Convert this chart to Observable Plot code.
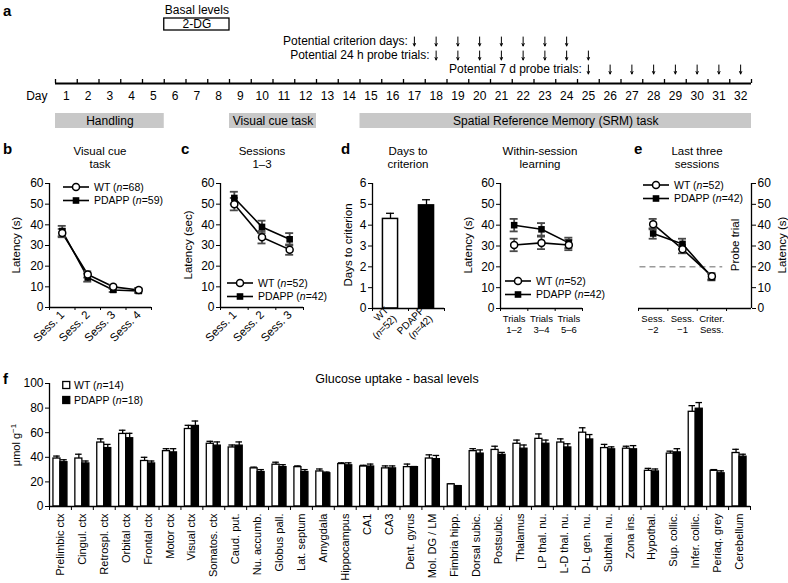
<!DOCTYPE html>
<html><head><meta charset="utf-8">
<script src="https://cdn.jsdelivr.net/npm/d3@7"></script>
<script src="https://cdn.jsdelivr.net/npm/@observablehq/plot@0.6"></script>
<style>
body{margin:0;background:#fff;}
#root{position:relative;width:788px;height:583px;overflow:hidden;font-family:"Liberation Sans",Arial,Helvetica,sans-serif;color:#000;background:#fff;}
.abs{position:absolute;white-space:nowrap;}
svg text{fill:#000;}
</style></head><body><div id="root"></div>
<script>
// ---------------- DATA ----------------
// Panel a: timeline
const dayLabels = [1,2,3,4,5,6,7,8,9,10,11,12,13,14,15,16,17,18,19,20,21,22,23,24,25,26,27,28,29,30,31,32];
const dgDays = [6, 8];
const criterionDays = [17,18,19,20,21,22,23,24];
const probe24Days = [18,19,20,21,22,23,24,25];
const probe7Days = [25,26,27,28,29,30,31,32];
const phaseNames = ["Handling", "Visual cue task", "Spatial Reference Memory (SRM) task"];
const phaseStart = [1, 9, 15];
const phaseEnd = [5, 12, 32];

// Panel b: visual cue task
const sessB = ["Sess. 1", "Sess. 2", "Sess. 3", "Sess. 4"];
const wtB = [36, 16, 10, 8.5];
const wtBErr = [2, 1.5, 1, 1];
const pdB = [37, 14.5, 8.5, 8];
const pdBErr = [2.5, 2, 1, 1];

// Panel c: sessions 1-3
const sessC = ["Sess. 1", "Sess. 2", "Sess. 3"];
const wtC = [50, 34, 28];
const wtCErr = [3, 3, 2.5];
const pdC = [53, 39, 33];
const pdCErr = [3, 3, 3];

// Panel d: days to criterion
const critGroups = ["WT\n(n=52)", "PDAPP\n(n=42)"];
const critDays = [4.3, 4.95];
const critErr = [0.27, 0.27];

// Panel d: within-session learning
const trialsD = ["Trials\n1–2", "Trials\n3–4", "Trials\n5–6"];
const wtD = [30.5, 31.5, 30.5];
const wtDErr = [3, 3, 2.5];
const pdD = [40, 38, 31.5];
const pdDErr = [3, 3, 2.5];

// Panel e: last three sessions
const sessE = ["Sess.\n−2", "Sess.\n−1", "Criter.\nSess."];
const wtE = [40.5, 28.5, 15.5];
const wtEErr = [2.5, 2, 1.5];
const pdE = [36, 31, 15];
const pdEErr = [2.5, 2.5, 1.5];
const chanceLevel = 20;

// Panel f: glucose uptake
const regions = ["Prelimbic ctx","Cingul. ctx","Retrospl. ctx","Orbital ctx","Frontal ctx","Motor ctx","Visual ctx","Somatos. ctx","Caud. put.","Nu. accumb.","Globus pall.","Lat. septum","Amygdala","Hippocampus","CA1","CA3","Dent. gyrus","Mol. DG / LM","Fimbria hipp.","Dorsal subic.","Postsubic.","Thalamus","LP thal. nu.","L-D thal. nu.","D-L gen. nu.","Subthal. nu.","Zona ins.","Hypothal.","Sup. collic.","Infer. collic.","Periaq. grey","Cerebellum"];
const wtF    = [39, 39, 52, 59, 37, 45, 63, 51, 48, 31, 34, 32, 28.5, 34.5, 32.5, 31, 32, 39, 18, 45, 46, 51, 55, 52, 60, 47.5, 47, 29, 43, 77, 29, 43.5];
const wtFErr = [2, 3.5, 3, 3, 3, 2, 3, 2, 2, 1, 2, 1, 2, 1, 1, 2, 2.5, 3, 0.5, 2, 3, 3, 4, 3, 4, 3, 2, 2, 2, 5, 1, 3];
const pdF    = [36, 35, 47.5, 55.5, 35, 44, 65.5, 49.5, 49.5, 28, 32, 28, 27, 33.5, 32.5, 31, 32, 38.5, 16.5, 43, 42, 47, 51, 48, 54.5, 46.5, 46.5, 28.5, 44, 79.5, 27, 40.5];
const pdFErr = [2, 2, 3, 4, 2, 3, 4, 3, 3, 2, 2, 2, 1, 2, 2, 2, 0.5, 3, 0.5, 3, 2, 3, 3, 3, 4, 2, 3, 2, 3, 5, 2, 2];

// ---------------- HELPERS ----------------
const root = document.getElementById("root");
const FONT = '"Liberation Sans", Arial, Helvetica, sans-serif';
const intFmt = d => String(d);
function st(fs) { return {fontFamily: FONT, fontSize: fs + "px", background: "transparent", overflow: "visible", color: "#000"}; }
function place(node, left, top) {
  node.style.position = "absolute"; node.style.left = left + "px"; node.style.top = top + "px";
  root.appendChild(node); return node;
}
function txt(html, x, y, o = {}) {
  const d = document.createElement("div");
  d.className = "abs"; d.innerHTML = html;
  d.style.fontSize = (o.size || 12) + "px";
  if (o.bold) d.style.fontWeight = "bold";
  d.style.lineHeight = (o.lh || Math.round((o.size || 12) * 1.15)) + "px";
  d.style.left = x + "px"; d.style.top = y + "px"; d.style.textAlign = "center";
  const a = o.anchor || "middle";
  let t = a === "middle" ? "translate(-50%,-50%)" : a === "start" ? "translate(0,-50%)" : "translate(-100%,-50%)";
  if (o.rotate) t += " rotate(-90deg)";
  d.style.transform = t;
  root.appendChild(d); return d;
}
function title2(l1, l2, x) {
  txt(l1, x, 151, {size: 11.5});
  txt(l2, x, 164, {size: 11.5});
}
function italicN(node) {
  d3.select(node).selectAll("text, tspan").each(function() {
    if (this.children.length === 0 && this.textContent.includes("(n=")) {
      this.innerHTML = this.textContent.replace("(n=", '(<tspan font-style="italic">n</tspan>=');
    }
  });
  return node;
}
function lineLegend(left, top, labels) {
  const L = 26, gap = 13.5;
  const svg = d3.create("svg").attr("width", 140).attr("height", 32)
    .style("font-family", FONT).style("font-size", "10.5px").style("overflow", "visible");
  labels.forEach((lab, i) => {
    const y = 7 + i * gap;
    svg.append("line").attr("x1", 0).attr("x2", L).attr("y1", y).attr("y2", y).attr("stroke", "black").attr("stroke-width", 1.6);
    if (i === 0) svg.append("circle").attr("cx", L / 2).attr("cy", y).attr("r", 3.5).attr("fill", "white").attr("stroke", "black").attr("stroke-width", 1.5);
    else svg.append("rect").attr("x", L / 2 - 3.3).attr("y", y - 3.3).attr("width", 6.6).attr("height", 6.6).attr("fill", "black");
    svg.append("text").attr("x", L + 5).attr("y", y).attr("dy", "0.35em").html(lab.replace("(n=", '(<tspan font-style="italic">n</tspan>='));
  });
  place(svg.node(), left, top - 7);
}

// ---------------- PANEL A ----------------
const ROW = {basal: 10, boxTop: 18, boxBot: 30, box: 24, crit: 41, p24: 55, p7: 69, axis: 83, days: 96, barTop: 113, barBot: 128, bar: 120.5};
const arrowRows = [
  {days: criterionDays, y: ROW.crit, label: "Potential criterion days:"},
  {days: probe24Days, y: ROW.p24, label: "Potential 24 h probe trials:"},
  {days: probe7Days, y: ROW.p7, label: "Potential 7 d probe trials:"}
];
const phaseIdx = phaseNames.map((_, i) => i);
const dgMid = (dgDays[0] + dgDays[1]) / 2;
const A = Plot.plot({
  width: 788, height: 135, marginLeft: 55, marginRight: 37, marginTop: 0, marginBottom: 0,
  style: st(12),
  x: {domain: [0.5, 32.5], axis: null},
  y: {domain: [0, 135], range: [0, 135], axis: null},
  marks: [
    Plot.text(["Basal levels"], {x: dgMid, y: ROW.basal, text: d => d}),
    Plot.rect([dgDays], {x1: d => d[0] - 0.5, x2: d => d[1] + 0.5, y1: ROW.boxTop, y2: ROW.boxBot, fill: "white", stroke: "black", strokeWidth: 1.3}),
    Plot.text(["2-DG"], {x: dgMid, y: ROW.box, text: d => d}),
    ...arrowRows.flatMap(r => [
      Plot.arrow(r.days, {x1: d => d, x2: d => d, y1: r.y - 4.5, y2: r.y + 4.5, headLength: 4, headAngle: 50, strokeWidth: 1, stroke: "black"}),
      Plot.text([r.label], {x: r.days[0] - 0.3, y: r.y, text: d => d, textAnchor: "end"})
    ]),
    Plot.ruleY([ROW.axis], {x1: 0.5, x2: 32.5, strokeWidth: 1.8}),
    Plot.ruleX(d3.range(0.5, 32.6, 1), {x: d => d, y1: ROW.axis - 4, y2: ROW.axis, strokeWidth: 1.3}),
    Plot.text(dayLabels, {x: d => d, y: ROW.days, text: d => String(d)}),
    Plot.text(["Day"], {x: 0.5, dx: -8, y: ROW.days, text: d => d, textAnchor: "end"}),
    Plot.rect(phaseIdx, {x1: i => phaseStart[i] - 0.5, x2: i => phaseEnd[i] + 0.5, y1: ROW.barTop, y2: ROW.barBot, fill: "#c8c8c8"}),
    Plot.text(phaseIdx, {x: i => (phaseStart[i] + phaseEnd[i]) / 2, y: ROW.bar, text: i => phaseNames[i]})
  ]
});
place(A, 0, 0);

// ---------------- LINE PANELS ----------------
function linePanel(o) {
  const n = o.cats.length;
  const x0 = 0.5, x1 = o.xmax || n + 0.5;
  const frameH = o.frameH || 124;
  const frameW = o.width - o.mL - o.mR;
  const cap = 4 / (frameW / (x1 - x0));
  const rows = [];
  o.cats.forEach((c, i) => {
    rows.push({g: "WT", x: i + 1, v: o.wt[i], e: o.wtErr[i]});
    rows.push({g: "PDAPP", x: i + 1, v: o.pd[i], e: o.pdErr[i]});
  });
  const wtRows = rows.filter(r => r.g === "WT"), pdRows = rows.filter(r => r.g === "PDAPP");
  const right = !!o.right;
  const bounds = d3.range(0.5, (o.boundMax || x1) + 0.01, 1);
  const errStyle = {stroke: "#4a4a4a", strokeWidth: 1.8};
  const plot = Plot.plot({
    width: o.width, height: 43 + frameH + 50, marginLeft: o.mL, marginRight: o.mR, marginTop: 43, marginBottom: 50,
    style: st(12),
    x: {domain: [x0, x1]}, y: {domain: [0, 60]},
    marks: [
      ...(o.extra || []),
      Plot.ruleY([0], {strokeWidth: 1.3}),
      Plot.ruleX([right ? x1 : x0], {strokeWidth: 1.3}),
      Plot.axisY({anchor: right ? "right" : "left", ticks: [0, 10, 20, 30, 40, 50, 60], tickFormat: intFmt, tickSize: 4, tickPadding: 2, label: null}),
      Plot.axisX({ticks: bounds, tickFormat: () => "", tickSize: 3, label: null}),
      Plot.axisX({ticks: d3.range(1, n + 1), tickFormat: i => o.cats[i - 1], tickSize: 0, tickPadding: o.pad || 6, tickRotate: o.rotate || 0, label: null, fontSize: o.catSize || 12, lineHeight: o.lineH || 1.1}),
      Plot.line(wtRows, {x: "x", y: "v", stroke: "black", strokeWidth: 1.6}),
      Plot.line(pdRows, {x: "x", y: "v", stroke: "black", strokeWidth: 1.6}),
      Plot.ruleX(rows, {x: "x", y1: d => d.v - d.e, y2: d => d.v + d.e, ...errStyle}),
      Plot.ruleY(rows, {y: d => d.v + d.e, x1: d => d.x - cap, x2: d => d.x + cap, ...errStyle}),
      Plot.ruleY(rows, {y: d => d.v - d.e, x1: d => d.x - cap, x2: d => d.x + cap, ...errStyle}),
      Plot.dot(pdRows, {x: "x", y: "v", symbol: "square", r: 3.7, fill: "black"}),
      Plot.dot(wtRows, {x: "x", y: "v", symbol: "circle", r: 3.5, fill: "white", stroke: "black", strokeWidth: 1.5})
    ]
  });
  return place(plot, o.left, 140);
}

// b
linePanel({left: 0, width: 160, mL: 49, mR: 9, cats: sessB, wt: wtB, wtErr: wtBErr, pd: pdB, pdErr: pdBErr, rotate: -45, pad: 5, catSize: 11.5});
// c
linePanel({left: 160, width: 160, mL: 60, mR: 17, cats: sessC, wt: wtC, wtErr: wtCErr, pd: pdC, pdErr: pdCErr, rotate: -45, pad: 5, catSize: 11.5});
// d (within-session)
linePanel({left: 460, width: 140, mL: 40, mR: 18, frameH: 125, cats: trialsD, wt: wtD, wtErr: wtDErr, pd: pdD, pdErr: pdDErr, pad: 5, catSize: 9.5, lineH: 1.2});
// e
linePanel({left: 610, width: 178, mL: 28, mR: 37, frameH: 125, cats: sessE, wt: wtE, wtErr: wtEErr, pd: pdE, pdErr: pdEErr, pad: 5, catSize: 9.5, lineH: 1.2,
  right: true, xmax: 4.35, boundMax: 3.5,
  extra: [Plot.ruleY([chanceLevel], {x1: 0.55, x2: 3.37, stroke: "#9a9a9a", strokeWidth: 1.5, strokeDasharray: "6,4"})]});

// d (days to criterion bar)
const cIdx = critGroups.map((_, i) => i);
const Dbar = Plot.plot({
  width: 140, height: 43 + 125 + 50, marginLeft: 52, marginRight: 16, marginTop: 43, marginBottom: 50,
  style: st(12),
  x: {domain: [0.5, 2.5]}, y: {domain: [0, 6]},
  marks: [
    Plot.ruleX(cIdx, {x: i => i + 1, y1: i => critDays[i], y2: i => critDays[i] + critErr[i], strokeWidth: 1.3}),
    Plot.ruleY(cIdx, {y: i => critDays[i] + critErr[i], x1: i => i + 1 - 0.11, x2: i => i + 1 + 0.11, strokeWidth: 1.3}),
    Plot.rect([0], {x1: i => i + 1 - 0.21, x2: i => i + 1 + 0.21, y1: 0, y2: i => critDays[i], fill: "white", stroke: "black", strokeWidth: 1.5}),
    Plot.rect([1], {x1: i => i + 1 - 0.21, x2: i => i + 1 + 0.21, y1: 0, y2: i => critDays[i], fill: "black", stroke: "black", strokeWidth: 1.5}),
    Plot.ruleY([0], {strokeWidth: 1.3}),
    Plot.ruleX([0.5], {strokeWidth: 1.3}),
    Plot.axisY({ticks: [0, 1, 2, 3, 4, 5, 6], tickFormat: intFmt, tickSize: 4, tickPadding: 2, label: null}),
    Plot.axisX({ticks: [0.5, 1.5, 2.5], tickFormat: () => "", tickSize: 3, label: null}),
    Plot.axisX({ticks: [1, 2], tickFormat: i => critGroups[i - 1], tickSize: 0, tickPadding: 4, tickRotate: -45, label: null, fontSize: 10, lineHeight: 1.15})
  ]
});
italicN(place(Dbar, 320, 140));

// ---------------- PANEL F ----------------
const rIdx = regions.map((_, i) => i);
const BW = 0.32;
const fErr = {stroke: "black", strokeWidth: 1.3};
const F = Plot.plot({
  width: 788, height: 213, marginLeft: 49, marginRight: 38, marginTop: 13, marginBottom: 77,
  style: st(12),
  x: {domain: [0.5, 32.5]}, y: {domain: [0, 100]},
  marks: [
    Plot.ruleX(rIdx, {x: i => i + 1 - BW / 2, y1: i => wtF[i], y2: i => wtF[i] + wtFErr[i], ...fErr}),
    Plot.ruleY(rIdx, {y: i => wtF[i] + wtFErr[i], x1: i => i + 1 - BW / 2 - 0.15, x2: i => i + 1 - BW / 2 + 0.15, ...fErr}),
    Plot.ruleX(rIdx, {x: i => i + 1 + BW / 2, y1: i => pdF[i], y2: i => pdF[i] + pdFErr[i], ...fErr}),
    Plot.ruleY(rIdx, {y: i => pdF[i] + pdFErr[i], x1: i => i + 1 + BW / 2 - 0.15, x2: i => i + 1 + BW / 2 + 0.15, ...fErr}),
    Plot.rect(rIdx, {x1: i => i + 1 - BW, x2: i => i + 1, y1: 0, y2: i => wtF[i], fill: "white", stroke: "black", strokeWidth: 1.3}),
    Plot.rect(rIdx, {x1: i => i + 1, x2: i => i + 1 + BW, y1: 0, y2: i => pdF[i], fill: "black", stroke: "black", strokeWidth: 1.3}),
    Plot.ruleY([0], {strokeWidth: 1.3}),
    Plot.ruleX([0.5], {strokeWidth: 1.3}),
    Plot.axisY({ticks: [0, 20, 40, 60, 80, 100], tickFormat: intFmt, tickSize: 4, tickPadding: 2, label: null}),
    Plot.axisX({ticks: d3.range(0.5, 32.6, 1), tickFormat: () => "", tickSize: 4, label: null}),
    Plot.axisX({ticks: d3.range(1, 33), tickFormat: i => regions[i - 1], tickSize: 0, tickPadding: 7, tickRotate: -90, label: null, fontSize: 11})
  ]
});
place(F, 0, 370);

// ---------------- TEXT, LABELS, LEGENDS ----------------
txt("a", 3, 10, {size: 15, bold: true, anchor: "start"});
txt("b", 3, 148, {size: 15, bold: true, anchor: "start"});
txt("c", 181, 148, {size: 15, bold: true, anchor: "start"});
txt("d", 341, 148, {size: 15, bold: true, anchor: "start"});
txt("e", 634, 148, {size: 15, bold: true, anchor: "start"});
txt("f", 3, 378, {size: 15, bold: true, anchor: "start"});

title2("Visual cue", "task", 100);
title2("Sessions", "1–3", 262);
title2("Days to", "criterion", 408);
title2("Within-session", "learning", 540);
title2("Last three", "sessions", 697);
txt("Glucose uptake - basal levels", 397, 379, {size: 12.5});

txt("Latency (s)", 16, 245, {size: 11.5, rotate: true});
txt("Latency (sec)", 188, 245, {size: 11.5, rotate: true});
txt("Days to criterion", 348, 245, {size: 11.5, rotate: true});
txt("Latency (s)", 468, 245, {size: 11.5, rotate: true});
txt("Probe trial", 735, 245, {size: 11.5, rotate: true});
txt("Latency (s)", 782, 245, {size: 11.5, rotate: true});
txt("μmol g<sup style='font-size:8px'>−1</sup>", 15, 445, {size: 11, rotate: true});

lineLegend(63, 187, ["WT (n=68)", "PDAPP (n=59)"]);
lineLegend(227, 283, ["WT (n=52)", "PDAPP (n=42)"]);
lineLegend(505, 281, ["WT (n=52)", "PDAPP (n=42)"]);
lineLegend(643, 185, ["WT (n=52)", "PDAPP (n=42)"]);

// panel f legend
const fl = d3.create("svg").attr("width", 110).attr("height", 26).style("font-family", FONT).style("font-size", "10.5px").style("overflow", "visible");
[["WT (n=14)", "white"], ["PDAPP (n=18)", "black"]].forEach(([lab, fill], i) => {
  const y = 5 + i * 15;
  fl.append("rect").attr("x", 0.75).attr("y", y - 3.5).attr("width", 7).attr("height", 7).attr("fill", fill).attr("stroke", "black").attr("stroke-width", 1.3);
  fl.append("text").attr("x", 12).attr("y", y).attr("dy", "0.35em").html(lab.replace("(n=", '(<tspan font-style="italic">n</tspan>='));
});
place(fl.node(), 62, 380);
</script>
</body></html>
